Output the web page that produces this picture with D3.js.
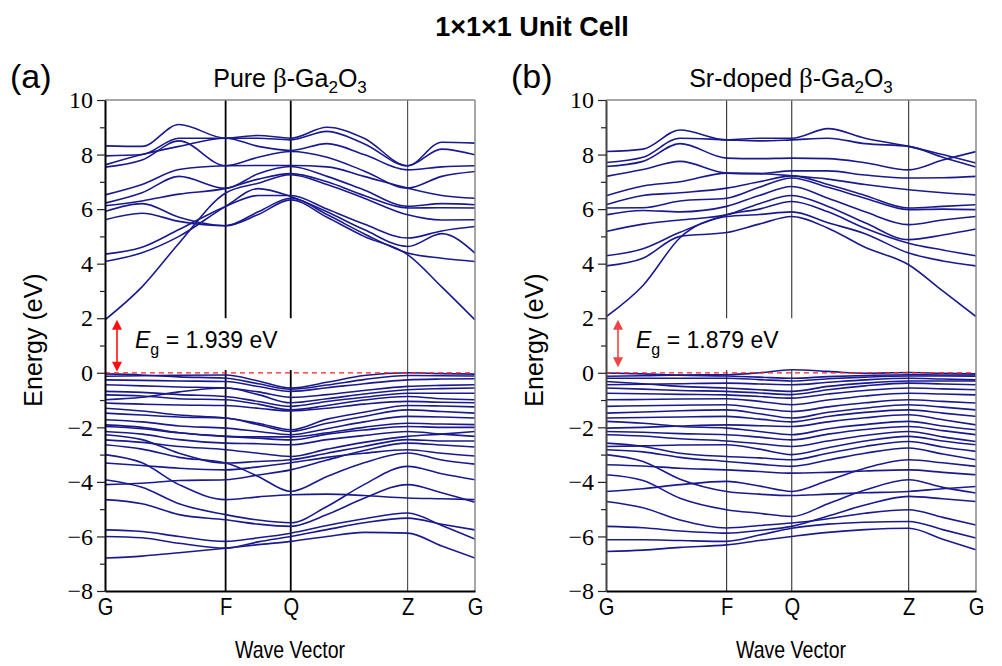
<!DOCTYPE html>
<html>
<head>
<meta charset="utf-8">
<script src="https://cdn.jsdelivr.net/npm/d3@7"></script>
<style>
  body { margin: 0; background: #fff; }
</style>
</head>
<body>
<div id="chart"></div>
<script>
// k-path positions (fraction of path length) where energies were read
const kNodes = [0, 0.1, 0.2, 0.326, 0.414, 0.502, 0.6, 0.7, 0.818, 0.91, 1];
const kTickPos = [0, 0.326, 0.502, 0.818, 1];
const kTickNames = ["G", "F", "Q", "Z", "G"];
const yMajor = [-8, -6, -4, -2, 0, 2, 4, 6, 8, 10];
const yMinor = [-7, -5, -3, -1, 1, 3, 5, 7, 9];

const panelLetters = ["(a)", "(b)"];
const gapText = ["1.939", "1.879"];
const gapArrowTop = [1.94, 1.94];
const gapArrowBottom = [0.04, 0.2];

// one row per band: energy (eV) at each k node  [G, .1, .2, F, .414, Q, .6, .7, Z, .91, G]
const pureCond = [
  [1.94, 3.15, 4.75, 6.59, 6.95, 7.26, 6.90, 6.40, 5.79, 5.60, 5.61],
  [4.08, 4.40, 5.00, 6.10, 6.75, 6.46, 5.90, 5.25, 4.63, 5.10, 4.39],
  [4.35, 4.60, 5.25, 6.10, 6.50, 6.50, 6.00, 5.45, 4.94, 5.20, 5.36],
  [5.61, 5.85, 5.55, 5.39, 5.80, 6.34, 5.70, 5.00, 4.33, 3.15, 1.94],
  [5.91, 6.20, 5.70, 5.39, 5.90, 6.40, 5.80, 5.10, 4.39, 4.20, 4.08],
  [6.12, 6.30, 6.55, 6.76, 7.10, 7.30, 7.00, 6.50, 6.04, 6.05, 6.04],
  [6.22, 6.60, 7.20, 6.76, 7.30, 7.56, 7.20, 6.70, 6.10, 6.20, 6.16],
  [6.52, 6.90, 7.45, 7.59, 7.60, 7.60, 7.55, 7.20, 6.77, 6.50, 6.40],
  [7.54, 7.80, 8.50, 7.59, 7.90, 8.11, 7.90, 7.40, 6.77, 7.20, 7.38],
  [7.62, 8.00, 8.30, 8.60, 8.30, 8.15, 8.40, 8.00, 7.44, 7.55, 7.59],
  [7.95, 8.00, 8.60, 8.60, 8.60, 8.54, 8.85, 8.40, 7.59, 8.20, 7.99],
  [8.32, 8.30, 9.10, 8.60, 8.70, 8.60, 9.00, 8.60, 7.59, 8.45, 8.42]
];

const pureVal = [
  [-6.79, -6.72, -6.60, -6.43, -6.30, -6.18, -6.00, -5.85, -5.88, -6.35, -6.79],
  [-6.00, -6.05, -6.25, -6.43, -6.20, -6.00, -5.75, -5.50, -5.33, -5.55, -5.76],
  [-5.76, -5.82, -6.00, -6.18, -6.05, -5.88, -5.60, -5.35, -5.14, -5.60, -6.10],
  [-4.65, -4.80, -5.20, -5.39, -5.55, -5.63, -5.20, -4.60, -4.10, -4.40, -4.75],
  [-4.10, -4.05, -3.95, -3.92, -3.75, -3.56, -3.20, -2.85, -2.58, -2.65, -2.72],
  [-3.92, -4.20, -4.80, -5.20, -5.40, -5.50, -4.90, -4.10, -3.43, -3.70, -3.92],
  [-3.31, -3.40, -3.50, -3.56, -3.45, -3.30, -3.10, -2.95, -2.82, -2.95, -3.05],
  [-3.00, -3.30, -4.10, -4.65, -4.55, -4.47, -4.45, -4.50, -4.59, -4.62, -4.65],
  [-2.64, -2.80, -3.10, -3.31, -3.80, -4.35, -3.80, -3.30, -2.94, -3.20, -3.35],
  [-2.46, -2.55, -2.70, -2.82, -2.95, -3.07, -2.80, -2.55, -2.33, -2.25, -2.15],
  [-2.27, -2.45, -2.95, -3.31, -3.25, -3.19, -2.95, -2.70, -2.45, -2.50, -2.50],
  [-2.15, -2.25, -2.45, -2.58, -2.60, -2.64, -2.45, -2.30, -2.15, -2.25, -2.33],
  [-1.97, -2.05, -2.20, -2.33, -2.40, -2.46, -2.25, -2.10, -1.97, -2.00, -2.00],
  [-1.91, -2.00, -2.20, -2.33, -2.35, -2.35, -2.20, -2.00, -1.85, -1.88, -1.90],
  [-1.72, -1.80, -1.95, -2.03, -2.15, -2.27, -2.05, -1.80, -1.60, -1.62, -1.66],
  [-1.48, -1.55, -1.62, -1.66, -1.90, -2.15, -1.85, -1.60, -1.36, -1.42, -1.48],
  [-1.30, -1.40, -1.55, -1.66, -1.85, -2.09, -1.70, -1.45, -1.20, -1.22, -1.25],
  [-1.11, -1.15, -1.18, -1.20, -1.30, -1.40, -1.30, -1.15, -1.05, -1.08, -1.10],
  [-0.99, -0.90, -0.70, -0.56, -0.80, -1.10, -0.95, -0.78, -0.62, -0.58, -0.56],
  [-0.81, -0.85, -0.95, -0.99, -1.15, -1.36, -1.20, -1.00, -0.87, -0.95, -0.99],
  [-0.68, -0.72, -0.80, -0.87, -1.05, -1.23, -1.05, -0.90, -0.75, -0.75, -0.75],
  [-0.44, -0.48, -0.52, -0.56, -0.70, -0.90, -0.80, -0.65, -0.50, -0.46, -0.44],
  [-0.26, -0.28, -0.30, -0.32, -0.50, -0.68, -0.55, -0.40, -0.26, -0.23, -0.22],
  [-0.13, -0.11, -0.09, -0.08, -0.30, -0.56, -0.35, -0.10, 0.00, -0.03, -0.05],
  [-0.04, -0.08, -0.15, -0.20, -0.40, -0.60, -0.45, -0.25, -0.10, -0.11, -0.12]
];

const srCond = [
  [2.05, 3.20, 4.95, 5.79, 6.00, 6.28, 5.90, 5.30, 4.75, 4.50, 4.29],
  [3.92, 4.20, 5.00, 5.14, 5.45, 5.73, 5.30, 4.60, 3.96, 3.00, 2.06],
  [4.29, 4.55, 5.15, 5.73, 5.80, 5.90, 5.50, 5.10, 4.39, 4.10, 3.92],
  [5.18, 5.45, 5.60, 5.79, 6.20, 6.50, 6.10, 5.50, 4.88, 5.05, 5.27],
  [5.79, 5.95, 5.90, 6.10, 6.50, 6.83, 6.40, 5.90, 5.43, 5.60, 5.73],
  [6.04, 6.05, 6.30, 6.40, 6.80, 7.14, 6.80, 6.40, 5.98, 6.00, 5.98],
  [6.16, 6.50, 6.60, 6.77, 7.00, 7.22, 6.90, 6.50, 6.04, 6.10, 6.16],
  [6.49, 6.85, 7.00, 7.32, 7.30, 7.22, 7.10, 6.90, 6.71, 6.60, 6.52],
  [7.20, 7.45, 7.75, 7.32, 7.30, 7.40, 7.40, 7.25, 7.14, 7.15, 7.20],
  [7.56, 7.75, 8.40, 7.87, 7.85, 7.87, 7.85, 7.70, 7.44, 7.80, 8.11],
  [7.71, 7.90, 8.60, 8.54, 8.50, 8.54, 8.60, 8.40, 8.30, 7.90, 7.54],
  [8.11, 8.20, 8.90, 8.54, 8.60, 8.60, 8.95, 8.60, 8.30, 8.00, 7.69]
];

const srVal = [
  [-6.55, -6.50, -6.40, -6.31, -6.15, -6.00, -5.85, -5.75, -5.70, -6.10, -6.49],
  [-6.12, -6.12, -6.15, -6.18, -5.95, -5.70, -5.55, -5.48, -5.45, -5.75, -6.06],
  [-5.63, -5.68, -5.80, -5.88, -5.78, -5.63, -5.25, -4.85, -4.53, -4.62, -4.72],
  [-4.72, -4.95, -5.40, -5.69, -5.60, -5.51, -5.35, -5.15, -5.02, -5.30, -5.58],
  [-4.35, -4.25, -4.10, -3.98, -4.15, -4.35, -3.95, -3.50, -3.19, -3.30, -3.43],
  [-3.74, -3.95, -4.60, -5.02, -5.15, -5.27, -4.80, -4.30, -3.92, -4.20, -4.41],
  [-3.37, -3.42, -3.50, -3.56, -3.62, -3.68, -3.65, -3.60, -3.56, -3.65, -3.74],
  [-3.00, -3.25, -3.90, -4.35, -4.45, -4.50, -4.45, -4.40, -4.35, -4.25, -4.17],
  [-2.82, -2.90, -3.10, -3.25, -3.35, -3.43, -3.20, -2.95, -2.76, -2.98, -3.19],
  [-2.70, -2.68, -2.65, -2.64, -2.80, -3.00, -2.75, -2.50, -2.33, -2.50, -2.64],
  [-2.58, -2.70, -2.95, -3.07, -3.12, -3.19, -2.95, -2.70, -2.52, -2.72, -2.88],
  [-2.27, -2.32, -2.42, -2.50, -2.60, -2.70, -2.50, -2.30, -2.15, -2.35, -2.52],
  [-2.15, -2.18, -2.23, -2.27, -2.36, -2.46, -2.25, -2.08, -1.97, -2.12, -2.27],
  [-2.03, -2.00, -1.95, -1.91, -1.94, -1.97, -1.80, -1.65, -1.54, -1.72, -1.91],
  [-1.78, -1.85, -1.97, -2.03, -2.15, -2.27, -2.05, -1.90, -1.78, -1.95, -2.09],
  [-1.66, -1.64, -1.62, -1.60, -1.70, -1.80, -1.60, -1.45, -1.36, -1.48, -1.60],
  [-1.48, -1.44, -1.39, -1.36, -1.50, -1.66, -1.45, -1.30, -1.17, -1.26, -1.36],
  [-1.23, -1.21, -1.19, -1.17, -1.30, -1.42, -1.25, -1.10, -0.99, -1.05, -1.11],
  [-0.99, -0.98, -0.96, -0.95, -1.05, -1.17, -1.00, -0.85, -0.75, -0.78, -0.81],
  [-0.75, -0.77, -0.79, -0.81, -0.87, -0.93, -0.78, -0.65, -0.56, -0.59, -0.62],
  [-0.56, -0.60, -0.65, -0.68, -0.74, -0.80, -0.62, -0.48, -0.38, -0.41, -0.44],
  [-0.44, -0.42, -0.40, -0.38, -0.41, -0.44, -0.35, -0.26, -0.20, -0.23, -0.26],
  [-0.32, -0.40, -0.50, -0.56, -0.62, -0.68, -0.50, -0.38, -0.30, -0.30, -0.30],
  [-0.20, -0.20, -0.20, -0.20, -0.25, -0.30, -0.22, -0.16, -0.12, -0.12, -0.13],
  [-0.13, -0.11, -0.08, -0.07, 0.00, 0.11, 0.05, -0.02, 0.01, -0.02, -0.04],
  [-0.01, -0.04, -0.09, -0.12, -0.16, -0.20, -0.14, -0.10, -0.07, -0.08, -0.08]
];

function toPoints(band) {
  return band.map((e, j) => [kNodes[j], e]);
}

const width = 1002, height = 666;
const yTop = 100, yBot = 591;
const bandColor = "#1a1a8e";
const sans = "'Liberation Sans', Arial, sans-serif";
const serif = "'Liberation Serif', 'Times New Roman', serif";

const svg = d3.select("#chart").append("svg")
  .attr("width", width)
  .attr("height", height)
  .style("background", "#fff");

// main title
svg.append("text")
  .attr("x", 532).attr("y", 36)
  .attr("text-anchor", "middle")
  .style("font-family", sans).attr("font-weight", "bold").attr("font-size", 27)
  .text("1\u00d71\u00d71 Unit Cell");

const panels = [
  { x0: 105, x1: 475, name: "Pure ", cond: pureCond, val: pureVal, kLineColor: ["#000", "#000", "#333"], kLineW: [1.8, 1.8, 1], leftColor: "#000", arrowColor: "#ff1010" },
  { x0: 606, x1: 976, name: "Sr-doped ", cond: srCond, val: srVal, kLineColor: ["#333", "#333", "#333"], kLineW: [1.1, 1.1, 1.1], leftColor: "#444", arrowColor: "#ee4444" }
];

panels.forEach((p, i) => {
  const x = d3.scaleLinear().domain([0, 1]).range([p.x0, p.x1]);
  const y = d3.scaleLinear().domain([-8, 10]).range([yBot, yTop]);
  const g = svg.append("g");
  const cx = (p.x0 + p.x1) / 2;

  g.append("clipPath").attr("id", "clip" + i)
    .append("rect")
    .attr("x", p.x0).attr("y", yTop)
    .attr("width", p.x1 - p.x0).attr("height", yBot - yTop);

  // high-symmetry lines
  kTickPos.slice(1, 4).forEach((k, j) => {
    g.append("line")
      .attr("x1", x(k)).attr("x2", x(k))
      .attr("y1", yTop).attr("y2", yBot)
      .attr("stroke", p.kLineColor[j])
      .attr("stroke-width", p.kLineW[j]);
  });

  // white box behind the gap label
  g.append("rect")
    .attr("x", p.x0 + 1).attr("y", y(2.0))
    .attr("width", 200).attr("height", y(0.1) - y(2.0))
    .attr("fill", "#fff");

  // bands
  const line = d3.line()
    .x(d => x(d[0]))
    .y(d => y(d[1]))
    .curve(d3.curveMonotoneX);

  const bands = p.cond.concat(p.val).map(toPoints);
  g.append("g").attr("clip-path", `url(#clip${i})`)
    .selectAll("path")
    .data(bands)
    .enter()
    .append("path")
    .attr("d", line)
    .attr("fill", "none")
    .attr("stroke", bandColor)
    .attr("stroke-width", 1.6);

  // Fermi level
  g.append("line")
    .attr("x1", p.x0).attr("x2", p.x1)
    .attr("y1", y(0)).attr("y2", y(0))
    .attr("stroke", "#ff2020")
    .attr("stroke-width", 1.2)
    .attr("stroke-dasharray", "5,4");

  // frame: top and right in grey
  g.append("line").attr("x1", p.x0).attr("x2", p.x1).attr("y1", yTop).attr("y2", yTop)
    .attr("stroke", "#888").attr("stroke-width", 1.5);
  g.append("line").attr("x1", p.x1).attr("x2", p.x1).attr("y1", yTop).attr("y2", yBot)
    .attr("stroke", "#888").attr("stroke-width", 1.5);

  // y axis
  const yAxis = d3.axisLeft(y)
    .tickValues(yMajor)
    .tickSize(8).tickSizeOuter(0).tickPadding(4)
    .tickFormat(d => d < 0 ? "\u2212" + Math.abs(d) : String(d));
  const ya = g.append("g").attr("transform", `translate(${p.x0},0)`).call(yAxis);
  ya.attr("font-family", null).attr("font-size", null);
  ya.select(".domain").attr("stroke", p.leftColor).attr("stroke-width", 2);
  ya.selectAll(".tick line").attr("stroke", "#222").attr("stroke-width", 1.2);
  ya.selectAll(".tick text")
    .style("font-family", serif).style("font-size", "24px").attr("fill", "#000");

  const yMinorAxis = d3.axisLeft(y).tickValues(yMinor).tickSize(5).tickFormat("");
  const ym = g.append("g").attr("transform", `translate(${p.x0},0)`).call(yMinorAxis);
  ym.select(".domain").remove();
  ym.selectAll(".tick line").attr("stroke", "#222").attr("stroke-width", 1.2);

  // x axis
  const xAxis = d3.axisBottom(x)
    .tickValues(kTickPos)
    .tickSize(0).tickSizeOuter(0).tickPadding(7)
    .tickFormat((d, j) => kTickNames[j]);
  const xa = g.append("g").attr("transform", `translate(0,${yBot})`).call(xAxis);
  xa.select(".domain").attr("stroke", "#000").attr("stroke-width", 2);
  xa.selectAll(".tick text")
    .style("font-family", sans).style("font-size", "24px").attr("fill", "#000")
    .attr("transform", "scale(0.84,1)");

  // axis titles
  svg.append("text")
    .attr("transform", `translate(${p.x0 - 63},${340}) rotate(-90)`)
    .attr("text-anchor", "middle")
    .style("font-family", sans).attr("font-size", 25)
    .text("Energy (eV)");

  svg.append("text")
    .attr("transform", `translate(${cx},658) scale(0.85,1)`)
    .attr("text-anchor", "middle")
    .style("font-family", sans).attr("font-size", 23)
    .text("Wave Vector");

  // panel letter and heading
  svg.append("text")
    .attr("x", p.x0 - 95).attr("y", 88)
    .style("font-family", sans).attr("font-size", 34)
    .text(panelLetters[i]);

  const head = svg.append("text")
    .attr("x", cx).attr("y", 87)
    .attr("text-anchor", "middle")
    .style("font-family", sans).attr("font-size", 25);
  head.append("tspan").text(p.name);
  head.append("tspan").style("font-family", serif).attr("font-size", 27).text("\u03b2");
  head.append("tspan").text("-Ga");
  head.append("tspan").attr("font-size", 17).attr("dy", 6).text("2");
  head.append("tspan").attr("dy", -6).text("O");
  head.append("tspan").attr("font-size", 17).attr("dy", 6).text("3");

  // band gap arrow
  const ax = p.x0 + 12;
  const yA = y(gapArrowTop[i]), yB = y(gapArrowBottom[i]);
  g.append("line")
    .attr("x1", ax).attr("x2", ax)
    .attr("y1", yA + 8).attr("y2", yB - 8)
    .attr("stroke", p.arrowColor).attr("stroke-width", 1.6);
  g.append("path")
    .attr("d", `M${ax},${yA} L${ax - 5},${yA + 10} L${ax + 5},${yA + 10} Z`)
    .attr("fill", p.arrowColor);
  g.append("path")
    .attr("d", `M${ax},${yB} L${ax - 5},${yB - 10} L${ax + 5},${yB - 10} Z`)
    .attr("fill", p.arrowColor);

  // band gap label
  const lab = g.append("text")
    .attr("x", p.x0 + 30).attr("y", y(0.9))
    .style("font-family", sans).attr("font-size", 23).attr("fill", "#000");
  lab.append("tspan").attr("font-style", "italic").text("E");
  lab.append("tspan").attr("font-size", 16).attr("dy", 7).text("g");
  lab.append("tspan").attr("dy", -7).text(" = " + gapText[i] + " eV");
});
</script>
</body>
</html>
